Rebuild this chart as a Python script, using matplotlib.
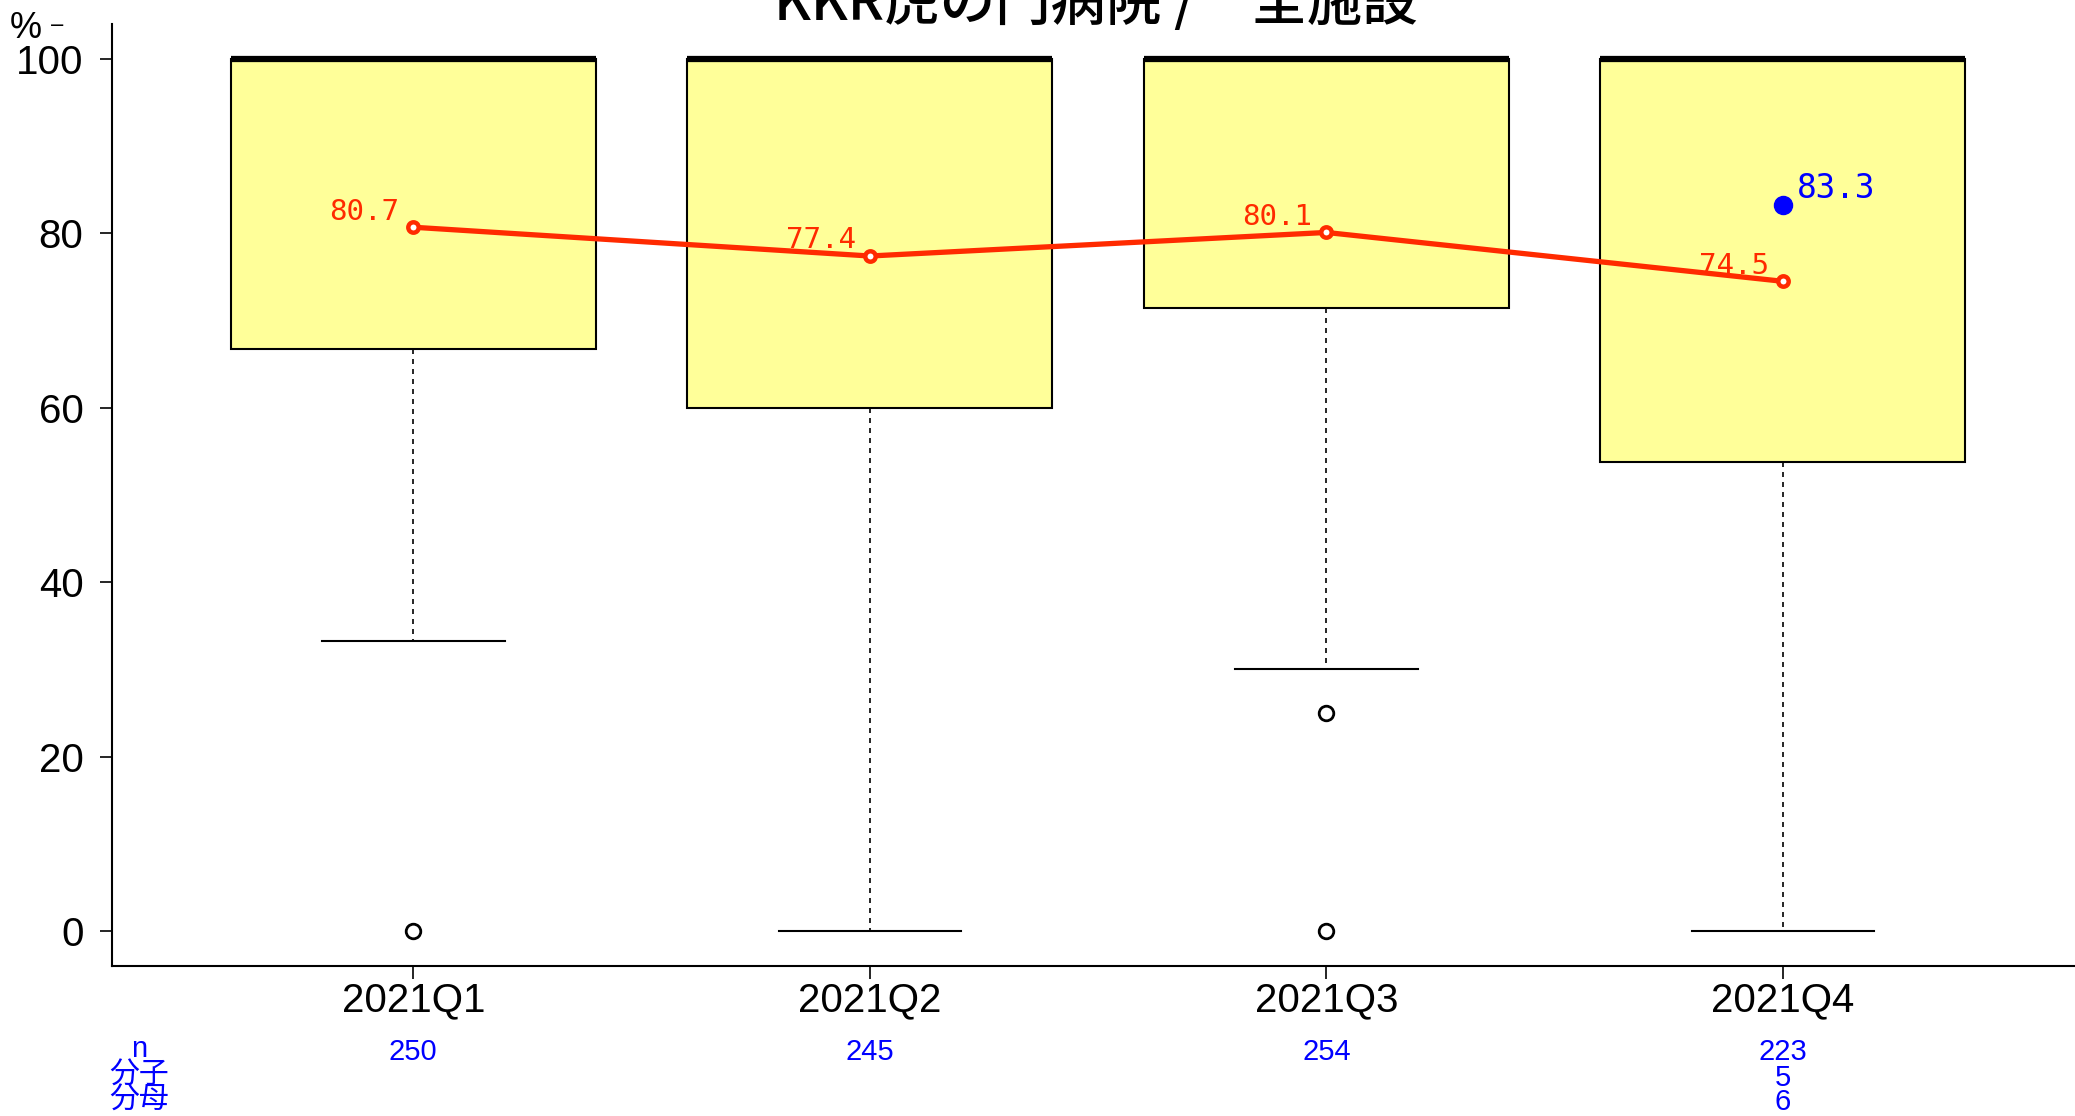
import matplotlib
matplotlib.use("Agg")
import matplotlib.pyplot as plt
from matplotlib.transforms import blended_transform_factory

plt.rcParams['font.family'] = ['Liberation Sans', 'Noto Sans CJK JP', 'DejaVu Sans']

#データ
title = 'KKR虎の門病院 /　全施設'
quarters = ['2021Q1', '2021Q2', '2021Q3', '2021Q4']
box_med = [100, 100, 100, 100]
box_q1 = [66.7, 60.0, 71.4, 53.8]
box_q3 = [100, 100, 100, 100]
whisker_lo = [33.3, 0, 30.0, 0]
whisker_hi = [100, 100, 100, 100]
outliers = [[0], [], [25, 0], []]
means = [80.7, 77.4, 80.1, 74.5]
hosp_quarter = '2021Q4'
hosp_value = 83.3
n_counts = [250, 245, 254, 223]
bunshi = [None, None, None, 5]
bunbo = [None, None, None, 6]

red = '#FF2A00'
blue = '#0000FF'

fig = plt.figure(figsize=(20.75, 11.16), dpi=100)
ax = fig.add_axes([112 / 2075, 1 - 966 / 1116, 1 - 112 / 2075, 942 / 1116])

pos = list(range(1, len(quarters) + 1))

#箱ひげ図
stats = []
for i in range(len(quarters)):
    stats.append(dict(med=box_med[i], q1=box_q1[i], q3=box_q3[i],
                      whislo=whisker_lo[i], whishi=whisker_hi[i],
                      fliers=outliers[i], label=quarters[i]))

ax.bxp(stats, positions=pos, widths=0.8, capwidths=0.4, patch_artist=True,
       boxprops=dict(facecolor='#FFFF99', edgecolor='black', linewidth=1.5),
       medianprops=dict(color='black', linewidth=4.5, solid_capstyle='butt'),
       whiskerprops=dict(color='black', linewidth=1.2, linestyle=(0, (3, 3))),
       capprops=dict(color='black', linewidth=1.5),
       flierprops=dict(marker='o', markerfacecolor='none', markeredgecolor='black',
                       markersize=10.5, markeredgewidth=2))

#平均値の折れ線
ax.plot(pos, means, color=red, lw=3.8, marker='o', ms=7.5, mfc='white',
        mec=red, mew=3.2, zorder=5)
for xi, v in zip(pos, means):
    ax.annotate(f'{v:.1f}', (xi, v), xytext=(-10, 5.5), textcoords='offset points',
                ha='right', va='baseline', color=red, fontsize=21,
                family='DejaVu Sans Mono', zorder=6)

#当院の値
hx = pos[quarters.index(hosp_quarter)]
ax.plot([hx], [hosp_value], 'o', color=blue, ms=13, zorder=6)
ax.annotate(f'{hosp_value:.1f}', (hx, hosp_value), xytext=(10, 5), textcoords='offset points',
            ha='left', va='baseline', color=blue, fontsize=23.5, family='DejaVu Sans Mono', zorder=6)

#軸
ax.set_xlim(0.34, 4.64)
ax.set_ylim(-4, 104)
ax.set_xticks(pos)
ax.set_xticklabels(quarters)
ax.set_yticks([0, 20, 40, 60, 80, 100])
ax.spines['top'].set_visible(False)
ax.spines['right'].set_visible(False)
ax.spines['left'].set_linewidth(1.5)
ax.spines['bottom'].set_linewidth(1.5)
ax.tick_params(axis='y', length=8.6, width=1.2, pad=12, labelsize=29)
ax.tick_params(axis='x', length=9.4, width=1.2, pad=2, labelsize=29)

#タイトル
fig.text(1096 / 2075, 1 - 20 / 1116, title, ha='center', va='baseline',
         fontsize=40, fontweight='medium', family=['Noto Sans CJK JP', 'DejaVu Sans'])
fig.text(26 / 2075, 1 - 29 / 1116, '%', ha='center', va='center', fontsize=26)
fig.text(57 / 2075, 1 - 25 / 1116, '−', ha='center', va='center', fontsize=14, family='DejaVu Sans')

#下の件数
tr = blended_transform_factory(ax.transData, fig.transFigure)
row_y = [1 - 1052 / 1116, 1 - 1078 / 1116, 1 - 1102 / 1116]
for xi, nn, bs, bb in zip(pos, n_counts, bunshi, bunbo):
    ax.text(xi, row_y[0], str(nn), transform=tr, ha='center', va='center',
            color=blue, fontsize=21, clip_on=False)
    if bs is not None:
        ax.text(xi, row_y[1], str(bs), transform=tr, ha='center', va='center',
                color=blue, fontsize=21, clip_on=False)
    if bb is not None:
        ax.text(xi, row_y[2], str(bb), transform=tr, ha='center', va='center',
                color=blue, fontsize=21, clip_on=False)

cjk = ['Noto Sans CJK JP', 'DejaVu Sans']
fig.text(139 / 2075, 1 - 1049 / 1116, 'n', ha='center', va='center', color=blue, fontsize=21)
fig.text(139 / 2075, 1 - 1075 / 1116, '分子', ha='center', va='center', color=blue, fontsize=21.5, family=cjk)
fig.text(139 / 2075, 1 - 1100 / 1116, '分母', ha='center', va='center', color=blue, fontsize=21.5, family=cjk)

fig.savefig('out.png', dpi=100)
